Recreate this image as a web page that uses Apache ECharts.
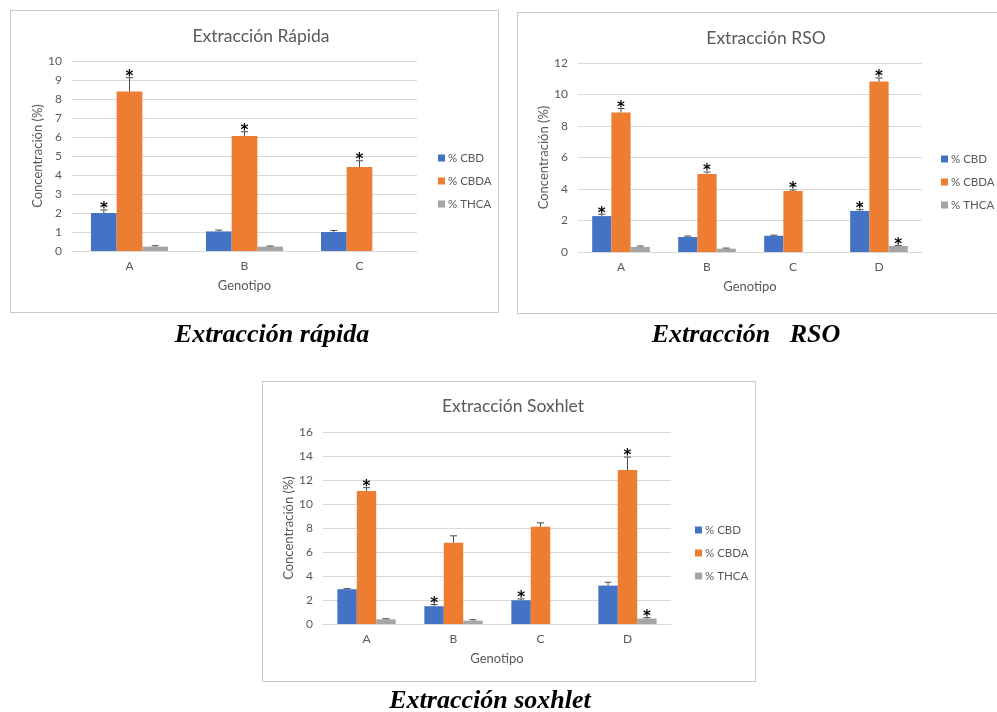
<!DOCTYPE html>
<html>
<head>
<meta charset="utf-8">
<script src="https://cdn.jsdelivr.net/npm/echarts@6/dist/echarts.min.js"></script>
<style>
  html, body { margin: 0; padding: 0; background: #fff; }
  #chart { width: 997px; height: 712px; }
</style>
</head>
<body>
<div id="chart"></div>
<script>
// ---- Extracción Rápida ----
const rapidaCats = ['A', 'B', 'C'];
const rapidaCBD  = [2.0, 1.03, 1.0];
const rapidaCBDA = [8.4, 6.05, 4.42];
const rapidaTHCA = [0.23, 0.23, null];
const rapidaCBDErr  = [0.16, 0.07, 0.08];
const rapidaCBDAErr = [0.72, 0.23, 0.33];
const rapidaTHCAErr = [0.05, 0.03, null];
const rapidaCBDSig  = [1, 0, 0];
const rapidaCBDASig = [1, 1, 1];
const rapidaTHCASig = [0, 0, 0];

// ---- Extracción RSO ----
const rsoCats = ['A', 'B', 'C', 'D'];
const rsoCBD  = [2.28, 0.95, 1.03, 2.61];
const rsoCBDA = [8.86, 4.96, 3.88, 10.82];
const rsoTHCA = [0.32, 0.21, null, 0.38];
const rsoCBDErr  = [0.12, 0.06, 0.04, 0.08];
const rsoCBDAErr = [0.25, 0.12, 0.06, 0.23];
const rsoTHCAErr = [0.06, 0.04, null, 0.04];
const rsoCBDSig  = [1, 0, 0, 1];
const rsoCBDASig = [1, 1, 1, 1];
const rsoTHCASig = [0, 0, 0, 1];

// ---- Extracción Soxhlet ----
const soxCats = ['A', 'B', 'C', 'D'];
const soxCBD  = [2.9, 1.48, 1.98, 3.2];
const soxCBDA = [11.08, 6.77, 8.1, 12.83];
const soxTHCA = [0.39, 0.28, null, 0.45];
const soxCBDErr  = [0.05, 0.14, 0.11, 0.28];
const soxCBDAErr = [0.28, 0.58, 0.33, 1.08];
const soxTHCAErr = [0.05, 0.08, null, 0.08];
const soxCBDSig  = [0, 1, 1, 0];
const soxCBDASig = [1, 0, 0, 1];
const soxTHCASig = [0, 0, 0, 1];

// y-axis ranges
const yMax = [10, 12, 16];
const yStep = [1, 2, 2];

const seriesNames = ['% CBD', '% CBDA', '% THCA'];
const colors = ['#4472C4', '#ED7D31', '#A5A5A5'];
const textGray = '#595959';
const gridLine = '#d9d9d9';
const font = 'Lato';
const GAP = 0.33;

const panels = [
  { cats: rapidaCats, vals: [rapidaCBD, rapidaCBDA, rapidaTHCA], errs: [rapidaCBDErr, rapidaCBDAErr, rapidaTHCAErr], sig: [rapidaCBDSig, rapidaCBDASig, rapidaTHCASig] },
  { cats: rsoCats, vals: [rsoCBD, rsoCBDA, rsoTHCA], errs: [rsoCBDErr, rsoCBDAErr, rsoTHCAErr], sig: [rsoCBDSig, rsoCBDASig, rsoTHCASig] },
  { cats: soxCats, vals: [soxCBD, soxCBDA, soxTHCA], errs: [soxCBDErr, soxCBDAErr, soxTHCAErr], sig: [soxCBDSig, soxCBDASig, soxTHCASig] }
];

const grids = [
  { left: 72, right: 580, top: 61, bottom: 461 },
  { left: 578, right: 75, top: 63, bottom: 460 },
  { left: 323, right: 326, top: 432, bottom: 88 }
];

const xAxes = [], yAxes = [], series = [];
panels.forEach((p, k) => {
  xAxes.push({
    type: 'category', gridIndex: k, data: p.cats,
    axisLine: { lineStyle: { color: gridLine } },
    axisTick: { show: false },
    axisLabel: { color: textGray, fontFamily: font, fontSize: 12, margin: 9 },
    name: 'Genotipo', nameLocation: 'middle', nameGap: 28,
    nameTextStyle: { color: textGray, fontFamily: font, fontSize: 13 }
  });
  yAxes.push({
    type: 'value', gridIndex: k, min: 0, max: yMax[k], interval: yStep[k],
    axisLine: { show: false }, axisTick: { show: false },
    splitLine: { lineStyle: { color: gridLine } },
    axisLabel: { color: textGray, fontFamily: font, fontSize: 12, margin: 10 },
    name: 'Concentración (%)', nameLocation: 'middle', nameGap: 28,
    nameTextStyle: { color: textGray, fontFamily: font, fontSize: 13 }
  });
  p.vals.forEach((vals, s) => {
    series.push({
      type: 'bar', name: seriesNames[s], xAxisIndex: k, yAxisIndex: k,
      data: vals, barGap: '0%', barCategoryGap: (GAP * 100) + '%',
      itemStyle: { color: colors[s] }, silent: true, animation: false
    });
  });
  // error bars and significance marks
  const marks = [];
  p.vals.forEach((vals, s) => {
    vals.forEach((v, c) => {
      if (v == null) return;
      marks.push([c, s, v, p.errs[s][c] || 0, p.sig[s][c]]);
    });
  });
  series.push({
    type: 'custom', name: 'err' + k, xAxisIndex: k, yAxisIndex: k, z: 5,
    silent: true, animation: false,
    encode: { x: 0, y: 2 },
    data: marks,
    renderItem: function (params, api) {
      const c = api.value(0), s = api.value(1), v = api.value(2), e = api.value(3), star = api.value(4);
      const band = api.size([1, 0])[0];
      const barW = band * (1 - GAP) / 3;
      const base = api.coord([c, v]);
      const x = base[0] + (s - 1) * barW;
      const yTop = api.coord([c, v + e])[1];
      const children = [];
      if (e > 0) {
        children.push({ type: 'line', shape: { x1: x, y1: base[1], x2: x, y2: yTop }, style: { stroke: '#4d4d4d', lineWidth: 1 } });
        children.push({ type: 'line', shape: { x1: x - 3.5, y1: yTop, x2: x + 3.5, y2: yTop }, style: { stroke: '#4d4d4d', lineWidth: 1 } });
      }
      if (star) {
        children.push({ type: 'text', x: x, y: yTop + 7, style: { text: '*', fill: '#000', font: 'bold 15px "DejaVu Sans"', textAlign: 'center', textVerticalAlign: 'bottom' } });
      }
      return { type: 'group', children: children };
    }
  });
});

const titleStyle = { color: textGray, fontFamily: font, fontSize: 17.5, fontWeight: 'normal' };
const captionStyle = { color: '#000', fontFamily: 'Liberation Serif', fontSize: 26, fontWeight: 'bold', fontStyle: 'italic' };

const legendBase = {
  orient: 'vertical', data: seriesNames, icon: 'rect', itemWidth: 7, itemHeight: 7, itemGap: 9,
  selectedMode: false, textStyle: { color: textGray, fontFamily: font, fontSize: 11.5, lineHeight: 14, padding: [0, 0, 0, -2] }
};

const chart = echarts.init(document.getElementById('chart'), null, { renderer: 'canvas' });
chart.setOption({
  backgroundColor: '#fff',
  animation: false,
  title: [
    { text: 'Extracción Rápida', left: 256, top: 22, textAlign: 'center', textStyle: titleStyle },
    { text: 'Extracción RSO', left: 761, top: 24, textAlign: 'center', textStyle: titleStyle },
    { text: 'Extracción Soxhlet', left: 508, top: 392, textAlign: 'center', textStyle: titleStyle },
    { text: 'Extracción rápida', left: 267, top: 317, textAlign: 'center', textStyle: captionStyle },
    { text: 'Extracción   RSO', left: 741, top: 317, textAlign: 'center', textStyle: captionStyle },
    { text: 'Extracción soxhlet', left: 485, top: 683, textAlign: 'center', textStyle: captionStyle }
  ],
  legend: [
    Object.assign({}, legendBase, { left: 433, top: 146 }),
    Object.assign({}, legendBase, { left: 936, top: 147 }),
    Object.assign({}, legendBase, { left: 690, top: 518 })
  ],
  grid: grids,
  xAxis: xAxes,
  yAxis: yAxes,
  series: series,
  graphic: [
    { type: 'rect', shape: { x: 10.5, y: 10.5, width: 488, height: 302 }, style: { fill: null, stroke: '#c8c8c8', lineWidth: 1 }, silent: true },
    { type: 'rect', shape: { x: 517.5, y: 12.5, width: 490, height: 301 }, style: { fill: null, stroke: '#c8c8c8', lineWidth: 1 }, silent: true },
    { type: 'rect', shape: { x: 262.5, y: 381.5, width: 493, height: 300 }, style: { fill: null, stroke: '#c8c8c8', lineWidth: 1 }, silent: true }
  ]
});
</script>
</body>
</html>
